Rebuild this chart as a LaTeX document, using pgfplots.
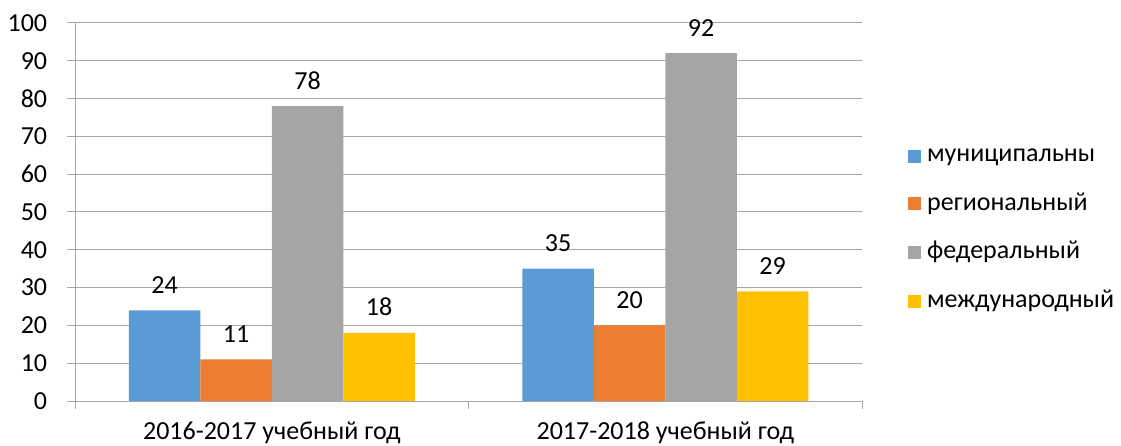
\documentclass[border=0pt]{standalone}
\usepackage{fontspec}
\setmainfont{Carlito}
\usepackage{pgfplots}
\pgfplotsset{compat=1.18}
\definecolor{cblue}{HTML}{5B9BD5}
\definecolor{corange}{HTML}{ED7D31}
\definecolor{cgray}{HTML}{A5A5A5}
\definecolor{cyellow}{HTML}{FFC000}
\definecolor{gridc}{HTML}{A6A6A6}
\begin{document}
\fontsize{26bp}{31bp}\selectfont
\begin{tikzpicture}
\path[use as bounding box] (0,0) rectangle (1121bp,446bp);
\begin{axis}[
  at={(75bp,45bp)}, anchor=south west,
  scale only axis, width=787bp, height=378bp,
  ymin=0, ymax=100, xmin=-0.5, xmax=1.5,
  ybar=0pt, bar width=71.5bp,
  /pgf/number format/assume math mode=true,
  ytick={0,10,...,100},
  ymajorgrids, grid style={gridc, line width=1bp},
  axis line style={gridc, line width=1bp},
  axis x line=bottom, axis y line=left,
  x axis line style={-}, y axis line style={-},
  tick style={gridc, line width=1bp},
  tick align=outside,
  major tick length=8bp,
  xtick={-0.5,0.5,1.5},
  xticklabels={},
  extra x ticks={0,1},
  extra x tick labels={2016-2017 учебный год, 2017-2018 учебный год},
  extra x tick style={major tick length=0pt},
  xticklabel shift=12bp,
  yticklabel style={font=\fontsize{26bp}{31bp}\selectfont, anchor=east, xshift=-11bp},
  xticklabel style={font=\fontsize{26bp}{31bp}\selectfont},
  nodes near coords,
  nodes near coords style={font=\fontsize{26bp}{31bp}\selectfont, black, yshift=8bp},
  legend style={draw=none, at={(1.0546,0.452)}, anchor=west,
    font=\fontsize{26bp}{31bp}\selectfont, row sep=23.5bp, column sep=4bp},
  legend cell align=left,
  legend image code/.code={\fill[#1] (0bp,-6.5bp) rectangle (13bp,6.5bp);},
]
\addplot[fill=cblue, draw=none] coordinates {(0,24) (1,35)};
\addplot[fill=corange, draw=none] coordinates {(0,11) (1,20)};
\addplot[fill=cgray, draw=none] coordinates {(0,78) (1,92)};
\addplot[fill=cyellow, draw=none] coordinates {(0,18) (1,29)};
\legend{муниципальны, региональный, федеральный, международный}
\end{axis}
\end{tikzpicture}
\end{document}
